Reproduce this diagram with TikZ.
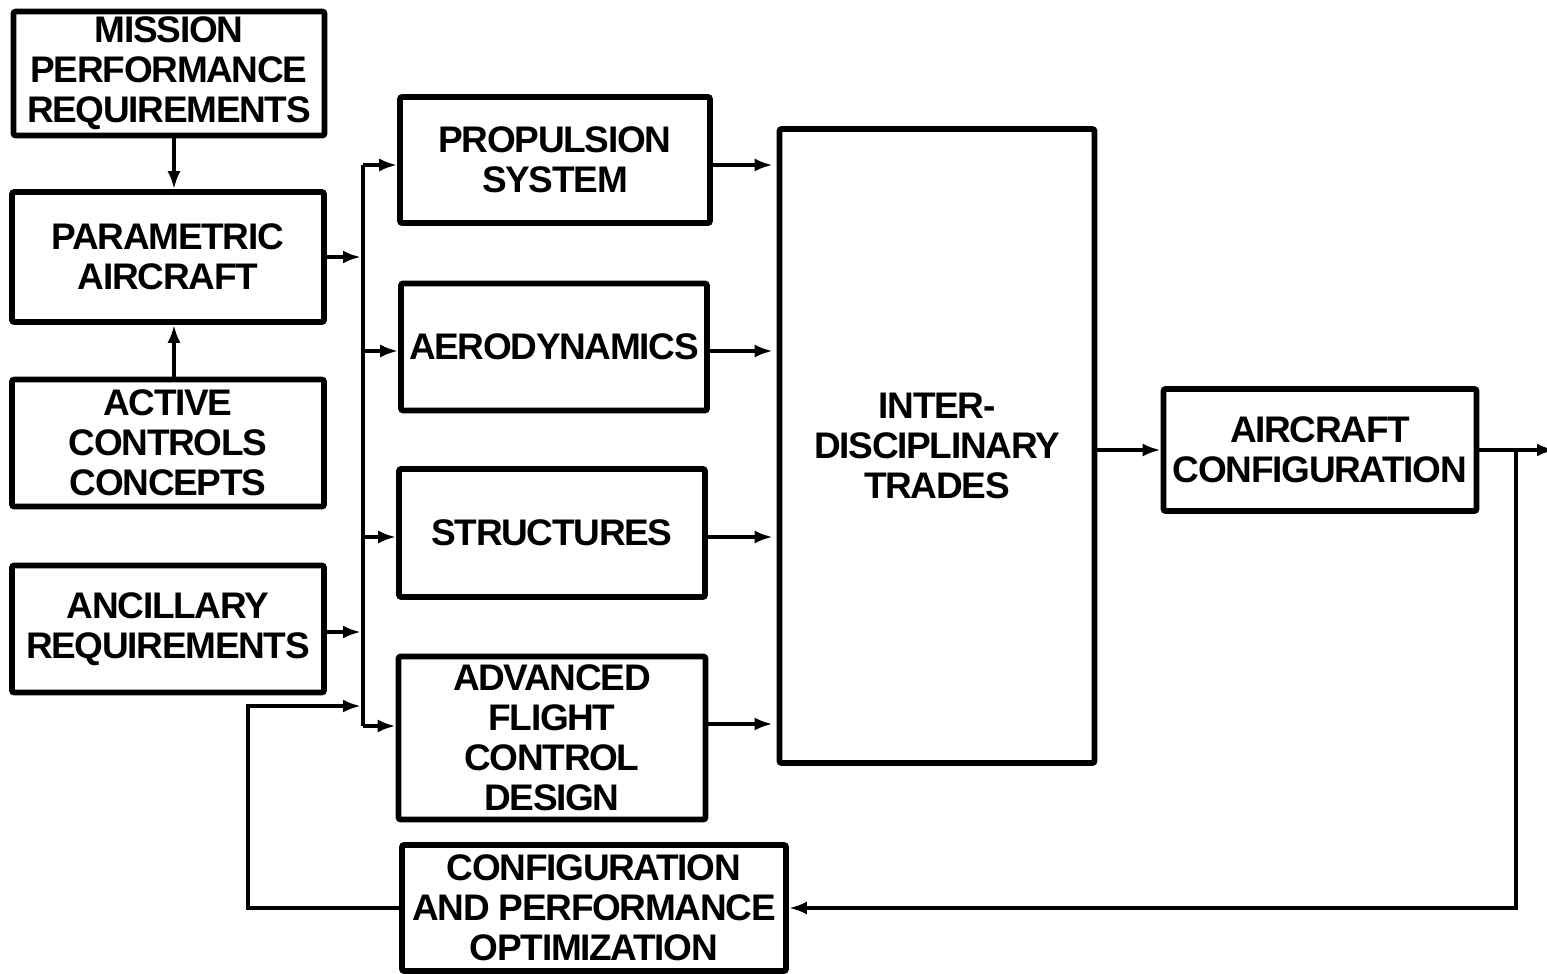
\documentclass[tikz,border=0pt]{standalone}
\usepackage{fontspec}
\setmainfont[LetterSpace=-3.5]{Liberation Sans}
\usetikzlibrary{arrows.meta}
\begin{document}
\begin{tikzpicture}[x=0.5pt,y=-0.5pt,
  box/.style={draw, line width=2.8pt, rounded corners=1pt, inner sep=0pt, align=center,
    font=\fontsize{18.5}{20}\selectfont\bfseries},
  conn/.style={line width=2.1pt, -{Latex[length=9pt,width=6.5pt]}},
  wire/.style={line width=2.1pt}]
\useasboundingbox (0,0) rectangle (1547,974);
\fill[white] (0,0) rectangle (1547,974);

% left column
\node[box, minimum width=155.5pt, minimum height=62pt] (mission) at (169,73.5) {MISSION\\PERFORMANCE\\REQUIREMENTS};
\node[box, minimum width=156pt, minimum height=65pt] (param) at (168,257) {PARAMETRIC\\AIRCRAFT};
\node[box, minimum width=156pt, minimum height=63.5pt] (active) at (168,443) {ACTIVE\\CONTROLS\\CONCEPTS};
\node[box, minimum width=156pt, minimum height=63.5pt] (ancil) at (168,629) {ANCILLARY\\REQUIREMENTS};

% middle column
\node[box, minimum width=155pt, minimum height=63pt] (prop) at (555,160) {PROPULSION\\SYSTEM};
\node[box, minimum width=153pt, minimum height=63.5pt] (aero) at (554,347) {AERODYNAMICS};
\node[box, minimum width=153pt, minimum height=64pt] (struct) at (552,533) {STRUCTURES};
\node[box, minimum width=153.5pt, minimum height=81.5pt] (afcd) at (552,738) {ADVANCED\\FLIGHT\\CONTROL\\DESIGN};
\node[box, minimum width=192pt, minimum height=63pt] (optim) at (594,908) {CONFIGURATION\\AND PERFORMANCE\\OPTIMIZATION};

% right
\node[box, minimum width=157.5pt, minimum height=317pt] (inter) at (937,446) {INTER-\\DISCIPLINARY\\TRADES};
\node[box, minimum width=156.5pt, minimum height=61pt] (acfg) at (1320,450) {AIRCRAFT\\CONFIGURATION};

% coordinates
\coordinate (b1) at (363,165);
\coordinate (b2) at (363,351);
\coordinate (b3) at (363,537);
\coordinate (b4) at (363,726);
\coordinate (fb) at (248,706);
\coordinate (j) at (1516,450);
\coordinate (out) at (1555,450);

% vertical links on the left
\draw[conn] (mission.south -| 174,0) -- (param.north -| 174,0);
\draw[conn] (active.north -| 174,0) -- (param.south -| 174,0);

% bus
\draw[wire] (b1) -- (b4);
\draw[conn, shorten >=1pt] (param.east) -- (param.east -| b1);
\draw[conn, shorten >=1pt] (ancil.east |- 0,632) -- (b1 |- 0,632);
\draw[conn, shorten >=1pt] (optim.west) -| (fb) -- (fb -| b1);

\draw[conn] (b1) -- (prop.west |- b1);
\draw[conn] (b2) -- (aero.west |- b2);
\draw[conn] (b3) -- (struct.west |- b3);
\draw[conn] (b4) -- (afcd.west |- b4);

% into inter-disciplinary trades
\draw[conn, shorten >=2pt] (prop.east |- b1) -- (inter.west |- b1);
\draw[conn, shorten >=2pt] (aero.east |- b2) -- (inter.west |- b2);
\draw[conn, shorten >=2pt] (struct.east |- b3) -- (inter.west |- b3);
\draw[conn, shorten >=2pt] (afcd.east |- 0,724) -- (inter.west |- 0,724);

\draw[conn] (inter.east |- acfg.west) -- (acfg.west);
\draw[conn] (acfg.east) -- (out);
\draw[conn] (j) |- (optim.east);
\end{tikzpicture}
\end{document}
